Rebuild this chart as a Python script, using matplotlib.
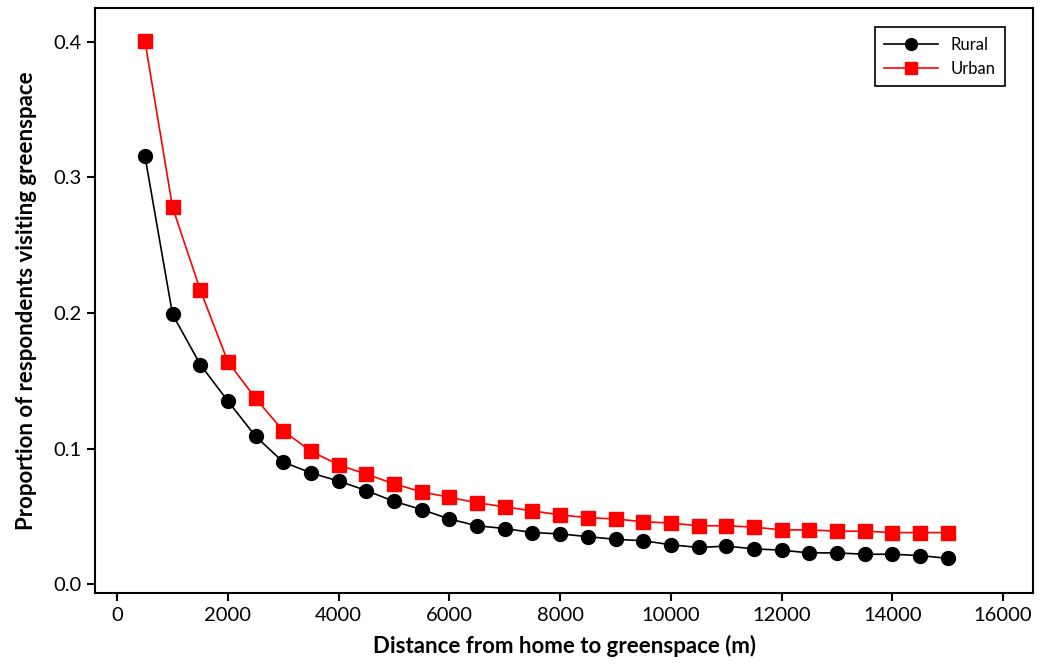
import matplotlib
matplotlib.use("Agg")
import matplotlib.pyplot as plt
from matplotlib.ticker import FormatStrFormatter

# distance bands (m) and proportion visiting greenspace
distance = [500, 1000, 1500, 2000, 2500, 3000, 3500, 4000, 4500, 5000,
            5500, 6000, 6500, 7000, 7500, 8000, 8500, 9000, 9500, 10000,
            10500, 11000, 11500, 12000, 12500, 13000, 13500, 14000, 14500, 15000]
rural = [0.316, 0.199, 0.162, 0.135, 0.109, 0.090, 0.082, 0.076, 0.069, 0.061,
         0.055, 0.048, 0.043, 0.041, 0.038, 0.037, 0.035, 0.033, 0.032, 0.029,
         0.027, 0.028, 0.026, 0.025, 0.023, 0.023, 0.022, 0.022, 0.021, 0.019]
urban = [0.401, 0.278, 0.217, 0.164, 0.137, 0.113, 0.098, 0.088, 0.081, 0.074,
         0.068, 0.064, 0.060, 0.057, 0.054, 0.051, 0.049, 0.048, 0.046, 0.045,
         0.043, 0.043, 0.042, 0.040, 0.040, 0.039, 0.039, 0.038, 0.038, 0.038]

plt.rcParams['font.family'] = ['Lato', 'DejaVu Sans']

fig = plt.figure(figsize=(10.42, 6.64), dpi=100)
ax = fig.add_axes([0.0912, 0.1069, 0.9002, 0.881])

ax.plot(distance, rural, color='black', lw=1.2, marker='o', ms=10, label='Rural')
ax.plot(distance, urban, color='red', lw=1.2, marker='s', ms=9.5, label='Urban')

ax.set_xlim(-400, 16540)
ax.set_ylim(-0.0066, 0.425)
ax.set_xticks(range(0, 16001, 2000))
ax.set_yticks([0.0, 0.1, 0.2, 0.3, 0.4])
ax.yaxis.set_major_formatter(FormatStrFormatter('%.1f'))
ax.tick_params(direction='out', length=6, width=1.5, labelsize=14.5, top=False, right=False)
ax.tick_params(axis='x', pad=4)
for s in ax.spines.values():
    s.set_linewidth(1.5)

ax.set_xlabel('Distance from home to greenspace (m)', fontsize=16, fontweight='bold', labelpad=8)
ax.set_ylabel('Proportion of respondents visiting greenspace', fontsize=16, fontweight='bold', labelpad=12)

leg = ax.legend(loc='upper right', bbox_to_anchor=(0.979, 0.981), fontsize=12,
                fancybox=False, edgecolor='black', framealpha=1, markerscale=0.85,
                handlelength=3.2, borderpad=0.55)
leg.get_frame().set_linewidth(1.2)

fig.savefig('out.png', dpi=100)
